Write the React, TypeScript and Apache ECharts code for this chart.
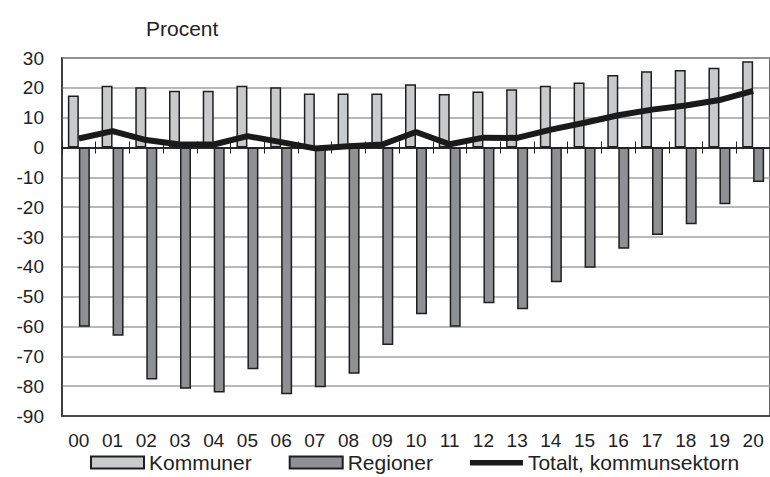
import React, { useEffect, useRef } from "react";
import * as echarts from "echarts";

const categories = ["00","01","02","03","04","05","06","07","08","09","10","11","12","13","14","15","16","17","18","19","20"];
const kommuner = [17.4, 20.7, 20.2, 19.0, 19.0, 20.7, 20.2, 18.1, 18.1, 18.1, 21.2, 17.9, 18.8, 19.5, 20.7, 21.8, 24.3, 25.6, 26.0, 26.7, 28.9];
const regioner = [-60.1, -63.1, -77.8, -80.9, -82.1, -74.3, -82.7, -80.4, -75.8, -66.2, -55.9, -60.1, -52.2, -54.2, -45.2, -40.3, -33.9, -29.3, -25.7, -19.0, -11.6];
const totalt = [3.0, 5.5, 2.5, 1.0, 1.0, 3.8, 1.8, -0.3, 0.4, 1.0, 5.2, 1.1, 3.3, 3.2, 6.0, 8.3, 10.8, 12.7, 14.1, 15.9, 19.0];
const seriesNames = ["Kommuner", "Regioner", "Totalt, kommunsektorn"];
const yTitle = "Procent";

const FONT = '"Liberation Sans", Arial, sans-serif';
const TXT = "#222";
const LINE_ICON = "path://M0,0 L0,0 M0,3.5 L55,3.5 L55,9 L0,9 Z M0,12 L0,12";

export default function App() {
  const ref = useRef<HTMLDivElement>(null);
  useEffect(() => {
    if (!ref.current) return;
    const chart = echarts.init(ref.current, null, { renderer: "svg" });
    const zeroAxis = (inside: boolean) => ({
      type: "category",
      data: categories,
      position: "bottom",
      axisLine: { show: true, onZero: true, onZeroAxisIndex: 0, lineStyle: { color: "#222", width: 1.5 } },
      axisTick: { show: true, inside, length: 6, interval: 0, lineStyle: { color: "#222", width: 1 } },
      axisLabel: { show: false },
      splitLine: { show: false },
    });
    chart.setOption({
      animation: false,
      textStyle: { fontFamily: FONT },
      title: {
        text: yTitle,
        left: 141,
        top: 13,
        textStyle: { fontFamily: FONT, fontSize: 21, fontWeight: "normal", color: TXT },
      },
      grid: {
        left: 62,
        right: -3,
        top: 58,
        bottom: 61,
        show: true,
        borderColor: "#333",
        borderWidth: 1.5,
        backgroundColor: "transparent",
      },
      legend: {
        left: 85,
        top: 447,
        itemWidth: 53,
        itemHeight: 12,
        itemGap: 37,
        textStyle: { fontFamily: FONT, fontSize: 21, color: TXT },
        data: [
          { name: seriesNames[0], icon: "rect" },
          { name: seriesNames[1], icon: "rect" },
          { name: seriesNames[2], icon: LINE_ICON, itemStyle: { color: "#1a1a1a", borderWidth: 0 } },
        ],
      },
      xAxis: [
        {
          type: "category",
          data: categories,
          position: "bottom",
          axisLine: { show: true, onZero: false, lineStyle: { color: "#333", width: 1.5 } },
          axisTick: { show: false },
          axisLabel: { fontFamily: FONT, fontSize: 19, color: TXT, margin: 15, interval: 0 },
          splitLine: { show: false },
        },
        zeroAxis(true),
        zeroAxis(false),
      ],
      yAxis: {
        type: "value",
        min: -90,
        max: 30,
        interval: 10,
        axisLine: { show: true, lineStyle: { color: "#333", width: 1.5 } },
        axisTick: { show: false },
        axisLabel: { fontFamily: FONT, fontSize: 19, color: TXT, margin: 18 },
        splitLine: { show: true, lineStyle: { color: "#a0a0a0", width: 1.5 } },
      },
      series: [
        {
          name: seriesNames[0],
          type: "bar",
          data: kommuner,
          barWidth: 11,
          barGap: "0%",
          itemStyle: { color: "#c9cacc", borderColor: "#1e1e1e", borderWidth: 1.5 },
        },
        {
          name: seriesNames[1],
          type: "bar",
          data: regioner,
          barWidth: 11,
          barGap: "0%",
          itemStyle: { color: "#8f9093", borderColor: "#1e1e1e", borderWidth: 1.5 },
        },
        {
          name: seriesNames[2],
          type: "line",
          data: totalt,
          symbol: "none",
          z: 5,
          lineStyle: { color: "#1a1a1a", width: 6 },
          itemStyle: { color: "#1a1a1a" },
        },
      ],
    });
    return () => chart.dispose();
  }, []);
  return <div ref={ref} style={{ position: "absolute", left: 0, top: 0, width: 770, height: 477 }} />;
}
